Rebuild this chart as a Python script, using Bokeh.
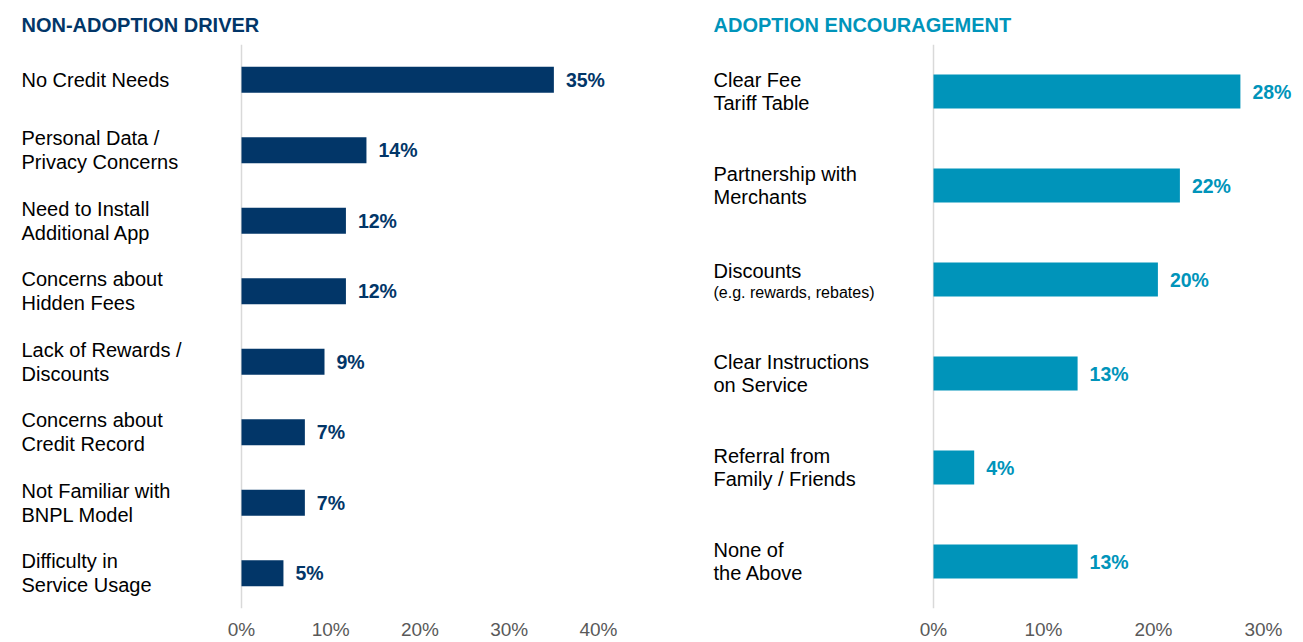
from bokeh.plotting import figure
from bokeh.layouts import row
from bokeh.models import Range1d, FactorRange, Span, FixedTicker, PrintfTickFormatter, ColumnDataSource
from bokeh.core.properties import value
from bokeh.embed import file_html
from bokeh.resources import INLINE

# ---------------- data ----------------
left_title = "NON-ADOPTION DRIVER"
left_cats = [
    "No Credit Needs",
    "Personal Data /\nPrivacy Concerns",
    "Need to Install\nAdditional App",
    "Concerns about\nHidden Fees",
    "Lack of Rewards /\nDiscounts",
    "Concerns about\nCredit Record",
    "Not Familiar with\nBNPL Model",
    "Difficulty in\nService Usage",
]
left_notes = ["", "", "", "", "", "", "", ""]
left_vals = [35.0, 14.0, 11.7, 11.7, 9.3, 7.1, 7.1, 4.7]
left_ticks = [0, 10, 20, 30, 40]

right_title = "ADOPTION ENCOURAGEMENT"
right_cats = [
    "Clear Fee\nTariff Table",
    "Partnership with\nMerchants",
    "Discounts",
    "Clear Instructions\non Service",
    "Referral from\nFamily / Friends",
    "None of\nthe Above",
]
right_notes = ["", "", "(e.g. rewards, rebates)", "", "", ""]
right_vals = [27.9, 22.4, 20.4, 13.1, 3.7, 13.1]
right_ticks = [0, 10, 20, 30]

NAVY = "#023668"
TEAL = "#0094BA"
FONT = "Liberation Sans"


def make_panel(title, cats, notes, vals, ticks, color, width, x_start, x_end, label_x, bar_h):
    p = figure(
        width=width, height=642,
        x_range=Range1d(x_start, x_end),
        y_range=FactorRange(factors=list(reversed(cats))),
        output_backend="svg", toolbar_location=None,
        y_axis_location=None,
        min_border_left=0, min_border_right=0,
        min_border_top=44, min_border_bottom=34,
        outline_line_color=None,
        title=title,
    )
    p.title.align = "left"
    p.title.offset = 21
    p.title.text_font = FONT
    p.title.text_font_size = "20px"
    p.title.text_font_style = "bold"
    p.title.text_color = color
    p.title.standoff = 17

    p.xgrid.visible = False
    p.ygrid.visible = False

    ax = p.xaxis[0]
    ax.ticker = FixedTicker(ticks=ticks)
    ax.formatter = PrintfTickFormatter(format="%d%%")
    ax.axis_line_color = None
    ax.major_tick_line_color = None
    ax.minor_tick_line_color = None
    ax.major_tick_out = 0
    ax.major_tick_in = 0
    ax.major_label_text_font = FONT
    ax.major_label_text_font_size = "19px"
    ax.major_label_text_color = "#595959"
    ax.major_label_standoff = 10

    src = ColumnDataSource(dict(
        cat=cats,
        val=vals,
        lbl=[f"{round(v)}%" for v in vals],
        note=notes,
        lx=[label_x] * len(cats),
        off=[-9 if n else 0 for n in notes],
    ))

    p.add_layout(Span(location=0, dimension="height", line_color="#D9D9D9",
                      line_width=1.5, level="underlay"))

    p.hbar(y="cat", left=0, right="val", height=bar_h, source=src,
           fill_color=color, line_color=None)

    p.text(x="val", y="cat", text="lbl", source=src, x_offset=12,
           text_align="left", text_baseline="middle",
           text_font=value(FONT), text_font_style="bold",
           text_font_size="19.5px", text_color=color)

    p.text(x="lx", y="cat", text="cat", source=src, y_offset="off",
           text_align="left", text_baseline="middle",
           text_font=value(FONT), text_font_size="20px",
           text_line_height=1.09, text_color="#000000")

    p.text(x="lx", y="cat", text="note", source=src, y_offset=13,
           text_align="left", text_baseline="middle",
           text_font=value(FONT), text_font_size="16px",
           text_color="#000000")
    return p


# left panel: 0% at page x 241, 8.925 px per %, spans page x 0..696
pl = make_panel(left_title, left_cats, left_notes, left_vals, left_ticks, NAVY,
                696, -241 / 8.925, 455 / 8.925, -220 / 8.925, 0.37)
# right panel: 0% at page x 933, 11 px per %, spans page x 696..1303
pr = make_panel(right_title, right_cats, right_notes, right_vals, right_ticks, TEAL,
                607, -237 / 11.0, 370 / 11.0, -220 / 11.0, 0.36)
pr.title.offset = 17

layout = row(pl, pr)

open("out.html", "w").write(file_html(layout, INLINE))
